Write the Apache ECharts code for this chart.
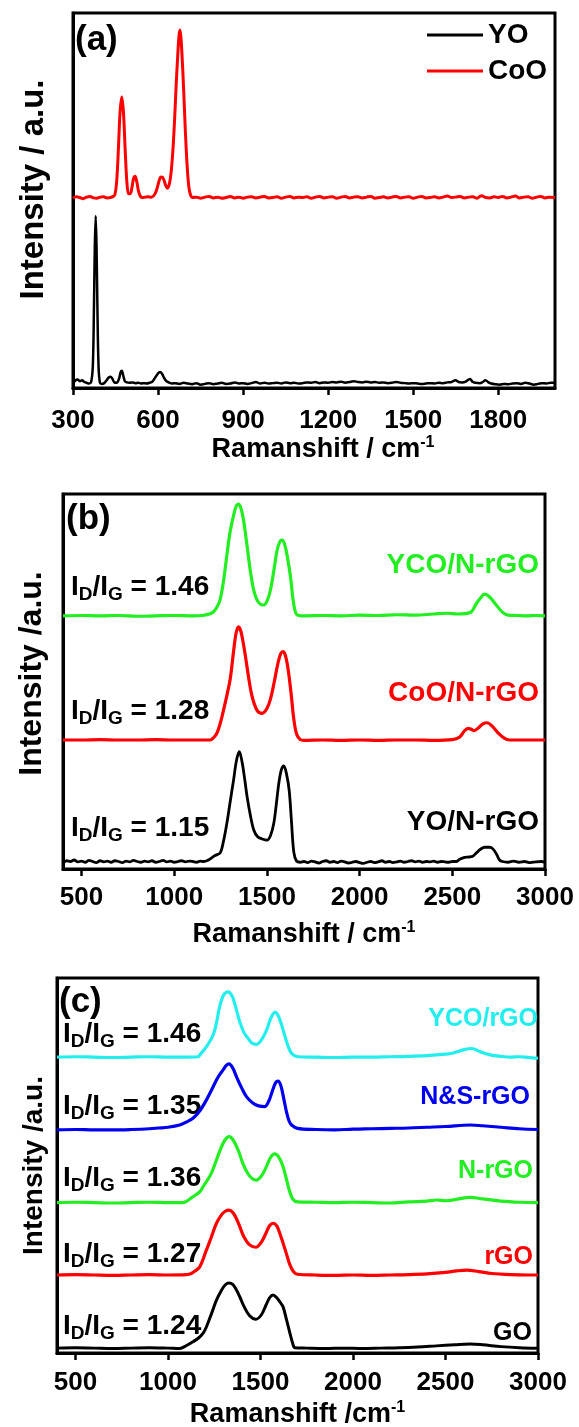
<!DOCTYPE html>
<html>
<head>
<meta charset="utf-8">
<script src="https://cdn.jsdelivr.net/npm/echarts@6/dist/echarts.min.js"></script>
<style>
  html, body { margin: 0; padding: 0; background: #fff; }
  #chart { width: 579px; height: 1427px; }
</style>
</head>
<body>
<div id="chart"></div>
<script>
// ---- Panel (a): oxide spectra, [Raman shift (cm-1), intensity (a.u., offset)] ----
const spectrumYO = [[300,1.2],[308,2.0],[316,2.3],[324,1.8],[332,2.1],[340,1.6],[348,1.4],[356,1.2],[364,1.6],[370,6],[374,22],[377,38],[380,45.9],[383,38],[386,22],[390,6],[395,1.4],[402,1.1],[410,1.3],[418,2.0],[426,2.8],[432,3.0],[438,2.6],[446,1.5],[454,1.4],[462,2.4],[468,4.2],[472,4.6],[477,3.4],[483,1.8],[490,1.5],[500,1.4],[510,1.5],[520,1.3],[530,1.4],[540,1.2],[550,1.3],[560,1.2],[570,1.4],[580,1.7],[590,2.8],[600,3.9],[607,4.3],[614,3.8],[622,2.6],[630,1.8],[640,1.4],[650,1.2],[660,1.3],[675,1.1],[690,1.4],[705,1.2],[720,1.0],[735,1.3],[750,0.9],[765,1.1],[780,1.3],[795,1.0],[810,1.2],[825,1.4],[840,1.1],[855,1.2],[870,1.5],[885,1.2],[900,1.3],[915,1.1],[930,1.3],[945,1.6],[960,1.2],[975,1.4],[990,1.2],[1005,1.3],[1020,1.4],[1035,1.2],[1050,1.5],[1065,1.3],[1080,1.4],[1095,1.2],[1110,1.3],[1125,1.5],[1140,1.4],[1155,1.6],[1170,1.3],[1185,1.5],[1200,1.4],[1215,1.6],[1230,1.5],[1245,1.7],[1260,1.4],[1275,1.6],[1290,1.8],[1305,1.6],[1320,1.5],[1335,1.7],[1350,1.5],[1365,1.6],[1380,1.4],[1395,1.5],[1410,1.3],[1425,1.4],[1440,1.6],[1455,1.4],[1470,1.3],[1485,1.2],[1500,1.3],[1515,1.2],[1530,1.1],[1545,1.2],[1560,1.3],[1575,1.2],[1590,1.4],[1605,1.3],[1620,1.5],[1635,1.6],[1649,2.1],[1660,1.6],[1672,1.5],[1685,1.7],[1700,2.4],[1710,1.6],[1720,1.4],[1735,1.3],[1745,1.6],[1755,2.1],[1765,1.5],[1775,1.2],[1790,1.0],[1805,0.9],[1820,1.1],[1835,1.0],[1850,1.2],[1865,1.3],[1880,1.1],[1895,1.4],[1910,1.2],[1925,0.9],[1940,1.1],[1955,1.3],[1970,1.2],[1985,1.4],[2000,1.4]];

const spectrumCoO = [[300,50.6],[312,51.0],[324,50.8],[336,50.5],[348,50.9],[360,51.1],[372,50.7],[384,50.6],[396,50.9],[408,51.0],[420,50.7],[432,50.8],[442,51.1],[448,51.6],[454,55],[460,63.5],[466,73.5],[472,77.6],[478,73.5],[484,63.5],[490,55],[496,51.8],[502,51.8],[508,53.5],[514,56.0],[519,56.5],[525,55],[531,52.5],[538,51.1],[545,50.8],[555,50.9],[565,51.0],[575,50.9],[585,51.3],[594,52.6],[602,54.8],[608,56.1],[614,56.3],[620,55.6],[627,54.0],[633,53.3],[640,54.5],[646,57.5],[652,63],[658,71],[664,81],[670,89.5],[674,94],[677,95.5],[680,94],[684,89.5],[690,80],[696,69],[702,60],[708,54],[714,51.6],[722,50.8],[735,50.9],[750,50.6],[765,50.9],[780,51.1],[795,50.7],[810,50.9],[825,50.6],[840,50.8],[855,51.1],[870,50.7],[885,50.9],[900,50.6],[915,50.9],[930,51.0],[945,50.7],[960,50.9],[975,51.1],[990,50.7],[1005,50.8],[1020,51.0],[1035,50.6],[1050,50.9],[1065,51.1],[1080,50.7],[1095,50.9],[1110,50.8],[1125,51.0],[1140,50.6],[1155,50.9],[1170,51.1],[1185,50.7],[1200,50.9],[1215,51.0],[1230,50.6],[1245,50.9],[1260,51.1],[1275,50.7],[1290,50.9],[1305,51.0],[1320,50.7],[1335,50.9],[1350,51.1],[1365,50.6],[1380,50.8],[1395,51.0],[1410,50.7],[1425,50.9],[1440,51.1],[1455,50.7],[1470,50.9],[1485,51.0],[1500,50.6],[1515,50.9],[1530,51.1],[1545,50.7],[1560,50.8],[1575,51.0],[1590,50.7],[1605,50.9],[1620,51.2],[1635,50.8],[1650,50.9],[1665,51.1],[1680,50.7],[1695,50.9],[1710,51.0],[1725,50.6],[1740,51.3],[1755,50.8],[1770,50.7],[1785,51.0],[1800,50.8],[1815,51.1],[1830,50.7],[1845,50.9],[1860,51.2],[1875,50.7],[1890,50.9],[1905,51.0],[1920,50.6],[1935,50.9],[1950,51.1],[1965,50.7],[1980,50.9],[2000,50.8]];

// ---- Panel (b): oxide / N-rGO composites ----
const spectrumYCO_NrGO = [[400,67.5],[500,67.6],[600,67.5],[700,67.6],[800,67.4],[900,67.5],[1000,67.6],[1100,67.5],[1150,67.6],[1190,68.0],[1212,68.6],[1230,69.8],[1247,71.7],[1265,76.5],[1283,83.3],[1300,89.5],[1319,94],[1333,96.6],[1347,97.3],[1361,96.0],[1374,93],[1392,86.5],[1410,79.7],[1428,74.5],[1447,71.7],[1465,70.6],[1483,70.4],[1501,71.5],[1519,74.4],[1537,79.5],[1555,85],[1570,87.3],[1582,87.7],[1596,86.5],[1610,83.3],[1627,78],[1645,70.5],[1663,67.8],[1700,67.5],[1800,67.6],[1900,67.5],[2000,67.7],[2100,67.6],[2200,67.8],[2300,67.7],[2400,68.0],[2471,68.2],[2530,68.0],[2597,68.4],[2630,70.8],[2651,72.2],[2674,73.3],[2700,72.6],[2737,70.4],[2770,68.5],[2800,67.7],[2850,67.6],[2900,67.5],[2950,67.6],[3000,67.5]];

const spectrumCoO_NrGO = [[400,34.4],[500,34.4],[600,34.5],[700,34.4],[800,34.4],[900,34.5],[1000,34.4],[1100,34.4],[1194,34.4],[1212,35.0],[1230,36.2],[1248,38.8],[1266,42.4],[1285,46.5],[1303,51],[1320,58],[1334,63],[1347,64.6],[1360,63.3],[1380,58],[1400,51.5],[1420,46],[1447,42.3],[1474,41.5],[1500,42.8],[1520,45.5],[1540,50],[1560,55],[1575,57.5],[1588,58],[1602,56.5],[1615,53],[1630,47],[1645,40],[1660,36],[1680,34.5],[1700,34.3],[1800,34.4],[1900,34.3],[2000,34.4],[2100,34.3],[2200,34.4],[2300,34.4],[2400,34.3],[2500,34.5],[2540,35.2],[2565,36.8],[2584,37.5],[2600,37.3],[2618,36.9],[2640,37.6],[2665,38.7],[2688,39],[2715,38.1],[2745,36.4],[2780,34.9],[2808,34.4],[2900,34.4],[3000,34.4]];

const spectrumYO_NrGO = [[400,1.6],[420,2.2],[440,2.0],[460,2.4],[480,1.9],[500,2.1],[520,1.8],[540,2.3],[560,2.0],[580,1.7],[600,2.2],[620,1.9],[640,2.1],[660,1.8],[680,2.2],[700,2.0],[720,1.7],[740,2.1],[760,1.9],[780,2.3],[800,2.0],[820,1.8],[840,2.1],[860,1.9],[880,2.2],[900,1.8],[920,2.0],[940,2.3],[960,1.9],[980,2.1],[1000,1.8],[1020,2.0],[1040,2.2],[1060,1.9],[1080,2.1],[1100,2.0],[1120,1.8],[1140,2.1],[1160,2.0],[1180,2.3],[1200,2.9],[1220,3.6],[1248,4.3],[1266,7.5],[1284,12.2],[1302,18],[1320,23.7],[1336,29],[1351,31.3],[1366,28.5],[1380,24],[1393,19.3],[1410,14.5],[1429,10.4],[1450,8.6],[1475,8.0],[1501,7.7],[1520,9.0],[1537,12.2],[1550,17],[1564,22.8],[1578,26.5],[1591,27.5],[1605,25.5],[1620,21],[1632,13],[1645,4.5],[1660,2.1],[1680,1.8],[1700,2.0],[1720,1.7],[1740,2.1],[1760,1.9],[1780,1.6],[1800,2.0],[1820,2.2],[1840,1.8],[1860,2.0],[1880,1.7],[1900,2.1],[1920,1.9],[1940,1.6],[1960,1.8],[1980,2.0],[2000,1.7],[2020,1.5],[2040,1.8],[2060,2.0],[2080,1.7],[2100,1.9],[2120,2.2],[2140,1.8],[2160,2.0],[2180,1.7],[2200,1.9],[2220,2.1],[2240,1.8],[2260,2.0],[2280,2.2],[2300,1.9],[2320,2.1],[2340,1.8],[2360,2.0],[2380,1.9],[2400,2.1],[2420,1.8],[2440,2.0],[2460,1.9],[2480,1.8],[2500,2.0],[2520,2.0],[2540,2.6],[2567,3.1],[2590,3.2],[2610,3.4],[2630,4.3],[2650,5.2],[2675,5.8],[2701,5.8],[2720,5.3],[2740,3.8],[2755,2.4],[2770,2.0],[2800,1.8],[2830,2.1],[2860,1.8],[2890,2.0],[2920,1.7],[2950,1.9],[2980,2.0],[3000,1.8]];

// ---- Panel (c): graphene-based samples ----
const spectrumYCO_rGO = [[400,78.9],[500,79.0],[600,78.9],[700,78.8],[800,78.9],[900,79.0],[1000,78.9],[1100,78.9],[1162,79.0],[1172,79.5],[1208,81.7],[1244,84.8],[1262,88.0],[1277,91.9],[1292,94.5],[1307,95.9],[1327,96.3],[1345,95.3],[1352,94.6],[1370,91.5],[1388,88.3],[1410,85.5],[1433,83.9],[1455,82.6],[1478,82.3],[1505,83.5],[1533,86.1],[1555,89.2],[1579,90.9],[1597,89.8],[1614,87.5],[1632,84.5],[1650,81.7],[1668,79.9],[1700,79.0],[1800,78.9],[1900,78.8],[2000,78.9],[2100,78.9],[2200,79.0],[2300,79.1],[2400,79.3],[2500,79.7],[2543,80.0],[2600,80.9],[2642,81.2],[2690,80.3],[2742,79.5],[2800,79.1],[2850,78.9],[2900,79.0],[2950,78.8],[3000,78.6]];

const spectrumNS_rGO = [[400,59.5],[500,59.6],[600,59.5],[700,59.5],[800,59.6],[900,59.8],[950,60.0],[1000,60.2],[1063,60.8],[1100,61.6],[1135,62.6],[1172,64.6],[1208,67.5],[1236,70.2],[1262,72.8],[1280,74.3],[1298,75.5],[1315,76.7],[1330,77.1],[1350,76.0],[1370,73.7],[1398,70.7],[1425,68.3],[1460,66.6],[1490,65.9],[1523,65.7],[1545,67.2],[1565,70.0],[1582,72.1],[1595,72.5],[1610,71.3],[1625,68.0],[1640,64.4],[1655,61.8],[1668,60.8],[1700,59.9],[1800,59.6],[1900,59.5],[2000,59.7],[2100,59.8],[2200,59.9],[2300,60.0],[2400,60.2],[2500,60.4],[2633,60.8],[2700,60.6],[2800,60.2],[2900,59.8],[3000,59.6]];

const spectrumN_rGO = [[400,40.1],[500,40.2],[600,40.1],[700,40.0],[800,40.1],[900,40.2],[1000,40.1],[1081,40.1],[1130,41.5],[1172,43.0],[1190,44.4],[1230,47.5],[1260,51.2],[1285,54.5],[1308,56.8],[1330,57.7],[1352,56.8],[1380,54.0],[1405,50.5],[1430,48.0],[1455,46.5],[1478,46.1],[1505,47.2],[1530,49.5],[1555,52.2],[1577,53.1],[1598,52.3],[1620,50.0],[1638,46.8],[1655,43.5],[1675,41.0],[1700,40.3],[1800,40.2],[1900,40.1],[2000,40.2],[2100,40.1],[2200,40.0],[2300,40.3],[2400,40.5],[2453,40.8],[2500,40.6],[2550,40.9],[2633,41.5],[2700,41.1],[2800,40.5],[2900,40.2],[3000,40.1]];

const spectrumRGO = [[400,20.8],[500,20.9],[600,20.8],[700,20.7],[800,20.8],[900,20.9],[1000,20.8],[1100,20.9],[1126,21.2],[1150,22.0],[1172,23.0],[1208,27.5],[1235,31.0],[1262,34.6],[1290,36.9],[1310,37.8],[1330,38.1],[1350,37.5],[1370,35.8],[1388,33.7],[1410,31.0],[1440,28.9],[1475,28.2],[1505,29.6],[1530,32.0],[1550,34.0],[1568,34.6],[1588,33.9],[1605,31.8],[1622,29.3],[1640,26.5],[1659,23.5],[1680,21.6],[1700,21.0],[1800,20.8],[1900,20.7],[2000,20.8],[2100,20.7],[2200,20.8],[2300,20.9],[2400,21.1],[2500,21.5],[2560,21.9],[2615,22.1],[2680,21.7],[2750,21.2],[2850,20.9],[2950,20.8],[3000,20.8]];

const spectrumGO = [[400,1.3],[500,1.4],[600,1.3],[700,1.2],[800,1.3],[900,1.4],[1000,1.3],[1063,1.2],[1100,2.0],[1135,3.0],[1165,4.0],[1190,5.3],[1208,7.0],[1235,10.5],[1262,14.1],[1290,16.8],[1310,18.2],[1330,18.7],[1350,18.3],[1370,16.8],[1388,15.0],[1410,12.5],[1440,10.0],[1475,9.0],[1505,10.2],[1530,12.8],[1550,14.8],[1568,15.5],[1590,14.6],[1605,13.6],[1622,12.3],[1640,9.0],[1659,5.3],[1675,2.4],[1686,1.4],[1750,1.3],[1850,1.2],[1950,1.3],[2050,1.2],[2150,1.3],[2250,1.4],[2350,1.6],[2450,1.9],[2550,2.2],[2633,2.4],[2700,2.2],[2800,1.7],[2900,1.4],[3000,1.25]];

// ---- Axis tick values ----
const ticksA = [300, 600, 900, 1200, 1500, 1800];
const ticksBC = [500, 1000, 1500, 2000, 2500, 3000];

// ---- I_D/I_G ratios ----
const ratiosB = ['1.46', '1.28', '1.15'];
const ratiosC = ['1.46', '1.35', '1.36', '1.27', '1.24'];

const FONT = '"Liberation Sans", Arial, sans-serif';
const chart = echarts.init(document.getElementById('chart'), null, { renderer: 'canvas' });

const grids = [
  { left: 73, top: 13, width: 482, height: 375 },
  { left: 63, top: 494, width: 482, height: 375 },
  { left: 57, top: 978, width: 481, height: 375 }
].map(g => Object.assign(g, {
  show: true, borderColor: '#000', borderWidth: 3, backgroundColor: 'transparent',
  containLabel: false, outerBoundsMode: 'none'
}));

function xAxisFor(idx, min, max, ticks, name, labelMargin, nameGap, namePad) {
  return {
    type: 'value', gridIndex: idx, min: min, max: max,
    splitLine: { show: false },
    axisLine: { show: true, onZero: false, lineStyle: { color: '#000', width: 3 } },
    axisTick: { show: true, inside: false, length: 7, lineStyle: { color: '#000', width: 2.5 }, customValues: ticks },
    axisLabel: {
      show: true, margin: labelMargin, color: '#000', fontSize: 26, fontWeight: 'bold', fontFamily: FONT,
      customValues: ticks, formatter: v => String(v)
    },
    name: name, nameLocation: 'middle', nameGap: nameGap,
    nameTextStyle: {
      color: '#000', fontSize: 27, fontWeight: 'bold', fontFamily: FONT, padding: namePad,
      rich: { sup: { fontSize: 16, fontWeight: 'bold', fontFamily: FONT, color: '#000', padding: [0, 0, 13, 0] } }
    }
  };
}

function yAxisFor(idx, name, nameGap, size, namePad) {
  return {
    type: 'value', gridIndex: idx, min: 0, max: 100,
    splitLine: { show: false },
    axisLine: { show: true, onZero: false, lineStyle: { color: '#000', width: 3 } },
    axisTick: { show: false }, axisLabel: { show: false },
    name: name, nameLocation: 'middle', nameGap: nameGap,
    nameTextStyle: { color: '#000', fontSize: size, fontWeight: 'bold', fontFamily: FONT, padding: namePad }
  };
}

function line(name, data, color, gi, width) {
  return {
    type: 'line', name: name, data: data, xAxisIndex: gi, yAxisIndex: gi,
    showSymbol: false, symbol: 'none', smooth: 0.35, clip: true,
    lineStyle: { color: color, width: width }, itemStyle: { color: color },
    silent: true
  };
}

// In-plot annotation text
function ratioText(val, x, y) {
  return {
    type: 'text', x: x, y: y, silent: true,
    style: {
      text: '{m|I}{s|D}{m|/I}{s|G}{m| = ' + val + '}',
      align: 'left', verticalAlign: 'middle',
      rich: {
        m: { fontSize: 28, fontWeight: 'bold', fontFamily: FONT, fill: '#000' },
        s: { fontSize: 19, fontWeight: 'bold', fontFamily: FONT, fill: '#000', padding: [15, 0, 0, 0] }
      }
    }
  };
}
function nameText(txt, color, xr, y, size) {
  return {
    type: 'text', x: xr, y: y, silent: true,
    style: { text: txt, fill: color, font: 'bold ' + size + 'px ' + FONT, align: 'right', verticalAlign: 'middle' }
  };
}
function panelTag(txt, x, y) {
  return {
    type: 'text', x: x, y: y, silent: true,
    style: { text: txt, fill: '#000', font: 'bold 35px ' + FONT, align: 'left', verticalAlign: 'middle' }
  };
}

const ratioYB = [587, 711, 828];
const ratioYC = [1034, 1106, 1178, 1254, 1326];

const option = {
  animation: false,
  backgroundColor: '#fff',
  grid: grids,
  xAxis: [
    xAxisFor(0, 300, 2000, ticksA, 'Ramanshift / cm{sup|-1}', 20, 47, [0, 0, 0, 18]),
    xAxisFor(1, 400, 3000, ticksBC, 'Ramanshift / cm{sup|-1}', 16, 51, 0),
    xAxisFor(2, 400, 3000, ticksBC, 'Ramanshift /cm{sup|-1}', 17, 47, 0)
  ],
  yAxis: [
    yAxisFor(0, 'Intensity / a.u.', 23, 33, [0, 0, 0, 22]),
    yAxisFor(1, 'Intensity /a.u.', 15, 32, [0, 0, 0, 16]),
    yAxisFor(2, 'Intensity /a.u.', 9, 28, 0)
  ],
  legend: {
    data: ['YO', 'CoO'], orient: 'vertical', left: 422, top: 16,
    icon: 'rect', itemWidth: 56, itemHeight: 3, itemGap: 8,
    selectedMode: false,
    textStyle: { color: '#000', fontSize: 28, fontWeight: 'bold', fontFamily: FONT }
  },
  series: [
    line('YO', spectrumYO, '#000000', 0, 2.5),
    line('CoO', spectrumCoO, '#ff0000', 0, 3),
    line('YCO/N-rGO', spectrumYCO_NrGO, '#22ee22', 1, 3.2),
    line('CoO/N-rGO', spectrumCoO_NrGO, '#ff0000', 1, 3.2),
    line('YO/N-rGO', spectrumYO_NrGO, '#000000', 1, 2.8),
    line('YCO/rGO', spectrumYCO_rGO, '#22eeee', 2, 3.2),
    line('N&S-rGO', spectrumNS_rGO, '#0000ee', 2, 3.2),
    line('N-rGO', spectrumN_rGO, '#22ee22', 2, 3.2),
    line('rGO', spectrumRGO, '#ff0000', 2, 3.2),
    line('GO', spectrumGO, '#000000', 2, 3)
  ],
  graphic: [
    panelTag('(a)', 75, 40),
    panelTag('(b)', 66, 519),
    panelTag('(c)', 59, 1002),
    ...ratiosB.map((v, i) => ratioText(v, 71, ratioYB[i])),
    ...ratiosC.map((v, i) => ratioText(v, 63, ratioYC[i])),
    nameText('YCO/N-rGO', '#22ee22', 539, 565, 28),
    nameText('CoO/N-rGO', '#ff0000', 539, 693, 28),
    nameText('YO/N-rGO', '#000000', 539, 822, 28),
    nameText('YCO/rGO', '#22eeee', 538, 1019, 25),
    nameText('N&S-rGO', '#0000ee', 530, 1097, 25),
    nameText('N-rGO', '#22ee22', 533, 1171, 25),
    nameText('rGO', '#ff0000', 533, 1257, 25),
    nameText('GO', '#000000', 532, 1333, 25)
  ]
};

chart.setOption(option);
</script>
</body>
</html>
